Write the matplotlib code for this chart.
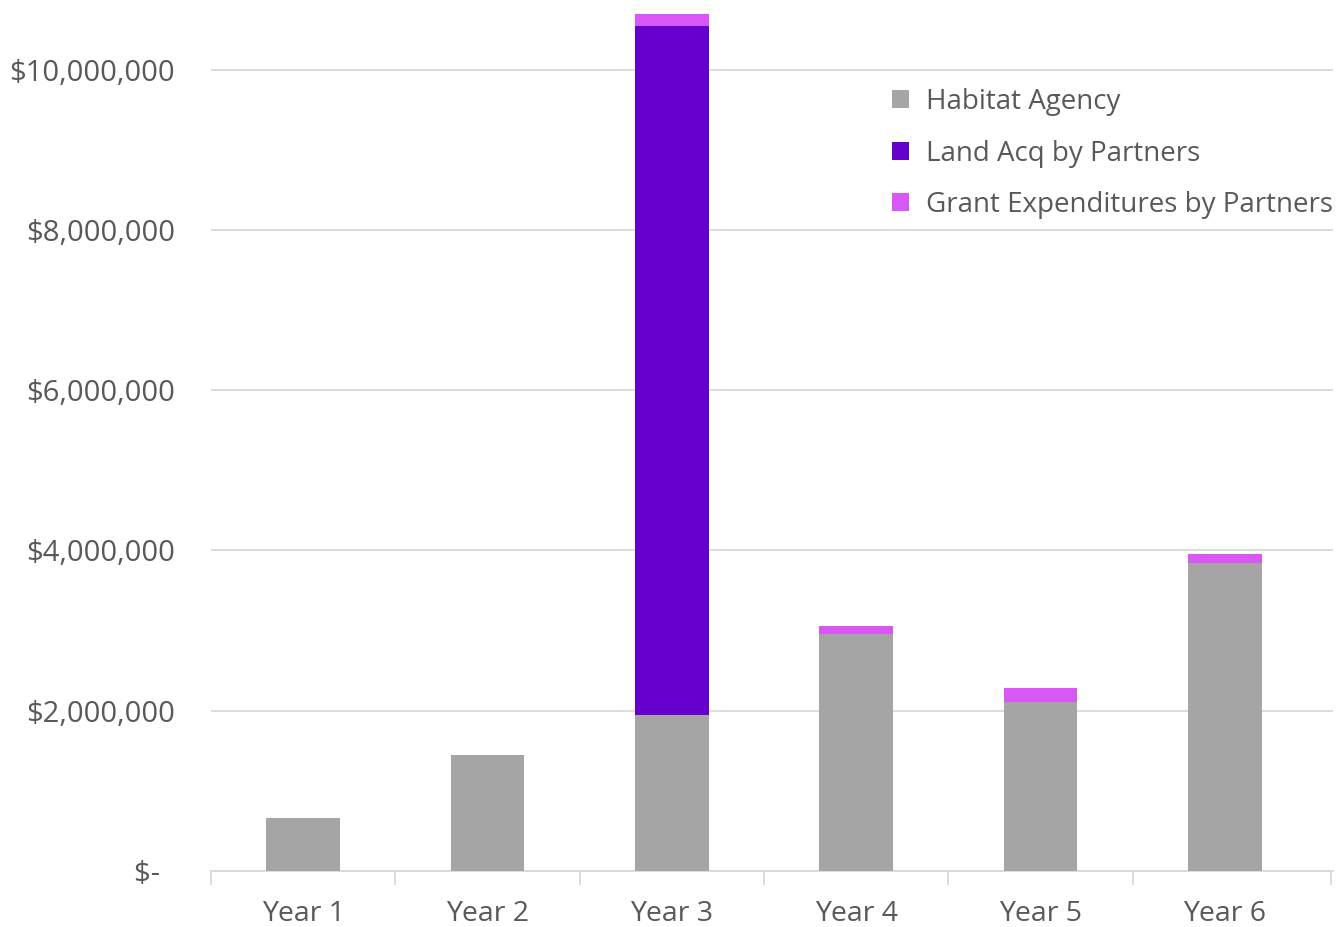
import matplotlib.pyplot as plt
import numpy as np
from matplotlib.ticker import FuncFormatter

years = ["Year 1", "Year 2", "Year 3", "Year 4", "Year 5", "Year 6"]
habitat_agency = [660000, 1450000, 1950000, 2960000, 2110000, 3850000]
land_acq = [0, 0, 8600000, 0, 0, 0]
grant_exp = [0, 0, 150000, 100000, 170000, 110000]

plt.rcParams['font.family'] = ['Open Sans', 'DejaVu Sans']

fig = plt.figure(figsize=(13.38, 9.27), dpi=100)
ax = fig.add_axes([0.1577, 0.0604, 0.8386, 0.9396])

x = np.arange(len(years))
w = 0.40
ax.bar(x, habitat_agency, w, color="#a5a5a5", label="Habitat Agency", zorder=3)
ax.bar(x, land_acq, w, bottom=habitat_agency, color="#6600cc",
       label="Land Acq by Partners", zorder=3)
base = np.array(habitat_agency) + np.array(land_acq)
ax.bar(x, grant_exp, w, bottom=base, color="#d957f5",
       label="Grant Expenditures by Partners", zorder=3)

right = len(years) - 0.5 + 0.087
ax.set_xlim(-0.5, right)
ax.set_ylim(0, 10.87e6)
ax.set_yticks(np.arange(0, 10.1e6, 2e6))


def money(v, pos):
    if v == 0:
        return "$-  "
    return "${:,.0f}".format(v)


ax.yaxis.set_major_formatter(FuncFormatter(money))
ax.grid(axis="y", color="#d9d9d9", linewidth=1.3, zorder=0)

for s in ["top", "right", "left"]:
    ax.spines[s].set_visible(False)
ax.spines["bottom"].set_color("#d9d9d9")
ax.spines["bottom"].set_linewidth(1.3)

ax.set_xticks(x)
ax.set_xticklabels(years)
ax.set_xticks(list(np.arange(-0.5, len(years) - 0.6)) + [right - 0.01], minor=True)
ax.tick_params(axis="x", which="major", length=0, pad=21, labelsize=20.5,
               labelcolor="#595959")
ax.tick_params(axis="x", which="minor", length=10, color="#d9d9d9", width=1.3)
ax.tick_params(axis="y", length=0, pad=26, labelsize=21, labelcolor="#595959")

leg = fig.legend(loc="upper left", bbox_to_anchor=(892 / 1338, 1 - 88 / 927),
                 frameon=False, fontsize=20, handlelength=0.62, handleheight=0.62,
                 handletextpad=0.6, labelspacing=0.85, borderpad=0,
                 borderaxespad=0)
for t in leg.get_texts():
    t.set_color("#595959")

fig.savefig("out.png", dpi=100)
